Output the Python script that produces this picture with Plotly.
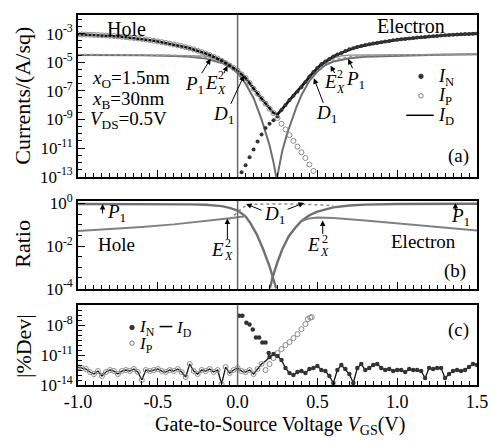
import numpy as np
import plotly.graph_objects as go

FONT = "Liberation Serif, Times New Roman, serif"

# ---------------- panel (a): currents (log10 A/sq) ----------------
x_grid = np.linspace(-1.0, 1.5, 101)  # step 0.025 V
logI_D = [-3.05, -3.06, -3.07, -3.08, -3.09, -3.10, -3.12, -3.13, -3.15, -3.17,
          -3.20, -3.22, -3.25, -3.28, -3.31, -3.34, -3.37, -3.41, -3.45, -3.50,
          -3.55, -3.60, -3.65, -3.70, -3.76, -3.82, -3.88, -3.95, -4.02, -4.10,
          -4.20, -4.29, -4.39, -4.50, -4.62, -4.75, -4.90, -5.06, -5.23, -5.41,
          -5.60, -5.85, -6.10, -6.45, -6.85, -7.20, -7.55, -7.90, -8.25, -8.55,
          -8.65, -8.35, -8.00, -7.65, -7.35, -7.05, -6.75, -6.38, -6.00, -5.68,
          -5.40, -5.15, -4.95, -4.77, -4.60, -4.47, -4.35, -4.22, -4.10, -4.02,
          -3.94, -3.87, -3.80, -3.75, -3.70, -3.65, -3.60, -3.56, -3.52, -3.47,
          -3.43, -3.40, -3.37, -3.34, -3.31, -3.28, -3.26, -3.23, -3.20, -3.18,
          -3.16, -3.14, -3.12, -3.10, -3.08, -3.06, -3.04, -3.03, -3.02, -3.01,
          -3.00]
x_N_tail = [0.025, 0.05, 0.075, 0.1, 0.125, 0.15, 0.175, 0.2, 0.225, 0.25]
logI_N_tail = [-12.7, -12.2, -11.65, -11.1, -10.55, -10.05, -9.6, -9.3, -9.05, -8.8]
x_P_tail = [0.25, 0.275, 0.3, 0.325, 0.35, 0.375, 0.4, 0.425, 0.45, 0.475]
logI_P_tail = [-8.9, -9.3, -9.7, -10.1, -10.5, -10.9, -11.3, -11.7, -12.15, -12.6]

x_P1_hole = [-1, -0.8, -0.6, -0.4, -0.3, -0.2, -0.1, -0.05, 0.0, 0.05, 0.1, 0.15, 0.2, 0.225, 0.245]
logP1_hole = [-4.5, -4.5, -4.52, -4.57, -4.62, -4.75, -5.05, -5.3, -5.75, -6.5, -7.5, -9.0, -10.8, -12.0, -13.2]
x_P1_elec = [0.245, 0.26, 0.28, 0.31, 0.34, 0.37, 0.4, 0.45, 0.5, 0.55, 0.6, 0.7, 0.8, 1.0, 1.2, 1.5]
logP1_elec = [-13.2, -12.3, -11.2, -10.0, -9.0, -8.1, -7.3, -6.3, -5.65, -5.2, -4.95, -4.72, -4.62, -4.53, -4.49, -4.45]
x_E_hole = [-1, -0.6, -0.4, -0.3, -0.2, -0.15, -0.1, -0.05, 0.0, 0.05]
logE_hole = [-4.46, -4.48, -4.52, -4.56, -4.65, -4.75, -4.95, -5.25, -5.7, -6.3]
x_E_elec = [0.42, 0.45, 0.5, 0.55, 0.6, 0.7, 0.8, 1.0, 1.2, 1.5]
logE_elec = [-6.5, -6.05, -5.5, -5.1, -4.85, -4.62, -4.54, -4.49, -4.47, -4.45]
x_D_hole = [-0.5, -0.3, -0.2, -0.1, -0.05, 0.0, 0.05, 0.1]
logD_hole = [-4.5, -4.52, -4.58, -4.8, -5.1, -5.55, -6.15, -6.95]
x_D_elec = [0.4, 0.45, 0.5, 0.55, 0.6, 0.65, 0.7, 1.0, 1.5]
logD_elec = [-6.8, -6.08, -5.47, -5.02, -4.72, -4.56, -4.5, -4.46, -4.43]

# ---------------- panel (b): ratio (log10) ----------------
x_R_hole = [-1, -0.6, -0.4, -0.3, -0.2, -0.1, -0.05, 0.0, 0.05, 0.08, 0.12, 0.16, 0.2, 0.22, 0.25]
logR_hole = [-0.02, -0.02, -0.03, -0.04, -0.06, -0.12, -0.2, -0.33, -0.6, -0.92, -1.45, -2.15, -2.95, -3.4, -4.2]
x_R_elec = [0.195, 0.22, 0.25, 0.28, 0.32, 0.36, 0.4, 0.45, 0.5, 0.6, 0.7, 0.8, 1.0, 1.5]
logR_elec = [-4.2, -3.45, -2.75, -2.15, -1.55, -1.15, -0.82, -0.55, -0.38, -0.18, -0.09, -0.05, -0.02, -0.01]
x_RE_hole = [-1, -0.8, -0.6, -0.4, -0.2, -0.1, -0.05, 0.0, 0.05]
logRE_hole = [-1.29, -1.2, -1.1, -0.98, -0.83, -0.74, -0.69, -0.64, -0.6]
x_RE_elec = [0.4, 0.45, 0.5, 0.6, 0.8, 1.0, 1.2, 1.5]
logRE_elec = [-0.82, -0.7, -0.66, -0.68, -0.8, -0.93, -1.07, -1.27]
x_RD = [-0.05, 0.0, 0.03, 0.06, 0.1, 0.2, 0.3, 0.4, 0.5, 0.6]
logRD = [-0.75, -0.42, -0.2, -0.08, -0.04, -0.02, -0.02, -0.03, -0.06, -0.1]

# ---------------- panel (c): |%Dev| (log10) ----------------
logDev_D = [-12.2, -12.3, -12.4, -12.7, -12.9, -12.6, -13.1, -12.7, -12.5, -12.6,
            -12.9, -12.6, -12.5, -12.6, -12.4, -12.7, -13.5, -12.5, -12.6, -12.5,
            -12.4, -12.6, -12.7, -12.5, -12.6, -12.4, -12.7, -13.2, -11.9, -12.6,
            -12.9, -12.5, -12.6, -12.4, -12.7, -12.5, -13.9, -12.2, -12.8, -12.5,
            -12.3, -12.6, -12.7, -12.5, -12.9, -12.4, -11.9, -11.6, -11.2, -10.9,
            -11.1, -11.5, -12.3, -12.8, -13.0, -12.7, -12.6, -12.8, -12.4, -12.3,
            -12.1, -12.5, -12.6, -13.1, -13.8, -12.5, -12.0, -12.4, -12.9, -13.8,
            -12.3, -11.9, -12.5, -12.3, -12.0, -11.9, -12.3, -12.5, -12.4, -12.6,
            -12.5, -12.5, -12.7, -12.4, -12.5, -12.5, -12.6, -13.3, -12.3, -12.4,
            -12.3, -12.3, -13.3, -12.9, -12.6, -12.5, -12.6, -12.5, -12.2, -11.9,
            -12.0]
x_devN_high = [0.01, 0.03, 0.055, 0.075, 0.095, 0.115, 0.135, 0.155, 0.175, 0.195]
logDevN_high = [-7.07, -7.07, -7.75, -7.95, -8.45, -9.25, -9.25, -9.75, -9.75, -10.8]
x_devP_high = [0.175, 0.2, 0.225, 0.25, 0.275, 0.3, 0.325, 0.35, 0.375, 0.4, 0.425, 0.44, 0.455, 0.465]
logDevP_high = [-12.5, -11.9, -11.3, -10.8, -10.4, -10.0, -9.7, -9.3, -8.9, -8.4, -7.9, -7.4, -7.25, -7.2]

assert len(logI_D) == 101 and len(logDev_D) == 101

def p10(v):
    return [10.0 ** t for t in v]

xg = list(np.round(x_grid, 4))
I_D = p10(logI_D)
# I_N = tail below minimum + I_D where electrons dominate
xN = x_N_tail + [x for x in xg if x > 0.26]
IN = p10(logI_N_tail) + [I_D[i] for i, x in enumerate(xg) if x > 0.26]
xP = [x for x in xg if x < 0.24] + x_P_tail
IP = [I_D[i] for i, x in enumerate(xg) if x < 0.24] + p10(logI_P_tail)

devD = p10(logDev_D)
xcN = x_devN_high + [x for x in xg if x >= 0.2]
cN = p10(logDevN_high) + [devD[i] for i, x in enumerate(xg) if x >= 0.2]
xcP = [x for x in xg if x <= 0.15] + x_devP_high
cP = [devD[i] for i, x in enumerate(xg) if x <= 0.15] + p10(logDevP_high)

fig = go.Figure()

def line(x, ly, xa, ya, color, width, dash="solid"):
    fig.add_trace(go.Scatter(x=x, y=p10(ly), xaxis=xa, yaxis=ya, mode="lines",
                             line=dict(color=color, width=width, dash=dash),
                             showlegend=False, hoverinfo="skip"))

# panel a
line(x_P1_hole, logP1_hole, "x", "y", "#6e6e6e", 2.0)
line(x_P1_elec, logP1_elec, "x", "y", "#6e6e6e", 2.0)
line(x_D_hole, logD_hole, "x", "y", "#8a8a8a", 1.2)
line(x_D_elec, logD_elec, "x", "y", "#8a8a8a", 1.2)
line(x_E_hole, logE_hole, "x", "y", "#999999", 1.6, "dot")
line(x_E_elec, logE_elec, "x", "y", "#999999", 1.6, "dot")
fig.add_trace(go.Scatter(x=xg, y=I_D, mode="lines", line=dict(color="#111", width=2.6),
                         showlegend=False, hoverinfo="skip"))
fig.add_trace(go.Scatter(x=xN, y=IN, mode="markers",
                         marker=dict(symbol="circle", size=4, color="#333"),
                         showlegend=False, hoverinfo="skip"))
fig.add_trace(go.Scatter(x=xP, y=IP, mode="markers",
                         marker=dict(symbol="circle-open", size=5, color="#8a8a8a", line=dict(width=1)),
                         showlegend=False, hoverinfo="skip"))

# panel b
line(x_R_hole, logR_hole, "x2", "y2", "#707070", 2.4)
line(x_R_elec, logR_elec, "x2", "y2", "#707070", 2.4)
line(x_RE_hole, logRE_hole, "x2", "y2", "#808080", 2.0)
line(x_RE_elec, logRE_elec, "x2", "y2", "#808080", 2.0)
line(x_RD, logRD, "x2", "y2", "#8a8a8a", 1.5, "dot")

# panel c
fig.add_trace(go.Scatter(x=xg, y=devD, xaxis="x3", yaxis="y3", mode="lines",
                         line=dict(color="#111", width=1.3), showlegend=False, hoverinfo="skip"))
fig.add_trace(go.Scatter(x=xcP, y=cP, xaxis="x3", yaxis="y3", mode="markers",
                         marker=dict(symbol="circle-open", size=5, color="#8a8a8a", line=dict(width=1)),
                         showlegend=False, hoverinfo="skip"))
fig.add_trace(go.Scatter(x=xcN, y=cN, xaxis="x3", yaxis="y3", mode="markers",
                         marker=dict(symbol="circle", size=4.5, color="#333"),
                         showlegend=False, hoverinfo="skip"))

# ---------------- layout ----------------
W, H = 493, 442
ML, MR, MT, MB = 78, 9, 5, 57
PW, PH = W - ML - MR, H - MT - MB

def py2f(py):
    return (H - MB - py) / PH

def px2f(px):
    return (px - ML) / PW

tickfont = dict(family=FONT, size=18, color="black")
xt_vals = [-1.0, -0.5, 0.0, 0.5, 1.0, 1.5]
xt_text = ["-1.0", "-0.5", "0.0", "0.5", "1.0", "1.5"]

def xaxis(anchor, labels):
    return dict(anchor=anchor, domain=[0, 1], range=[-1.0, 1.5], showline=True, linecolor="black",
                linewidth=1.6, mirror=True, ticks="inside", ticklen=7, tickwidth=1.2,
                tickcolor="black", tickmode="array", tickvals=xt_vals, ticktext=xt_text,
                showticklabels=labels, tickfont=tickfont, showgrid=False, zeroline=False,
                ticklabeloverflow="allow",
                minor=dict(tickmode="linear", tick0=0, dtick=0.05, ticks="inside", ticklen=4,
                           tickwidth=1, tickcolor="black"))

def yaxis(anchor, dom, rng, major, minor):
    return dict(anchor=anchor, domain=dom, type="log", range=rng, showline=True, linecolor="black",
                linewidth=1.6, mirror=True, ticks="inside", ticklen=7, tickwidth=1.2,
                tickcolor="black", tickmode="array", tickvals=[10.0 ** k for k in major],
                ticktext=["10<sup>%d</sup>" % k for k in major], tickfont=dict(family=FONT, size=17, color="black"),
                showgrid=False, zeroline=False, ticklabeloverflow="allow",
                minor=dict(tickmode="array", tickvals=[10.0 ** k for k in minor], ticks="inside",
                           ticklen=4, tickwidth=1, tickcolor="black"))

fig.update_layout(
    width=W, height=H, margin=dict(l=ML, r=MR, t=MT, b=MB),
    paper_bgcolor="white", plot_bgcolor="white", showlegend=False,
    font=dict(family=FONT, color="black"),
    xaxis=xaxis("y", False), xaxis2=xaxis("y2", False), xaxis3=xaxis("y3", True),
    yaxis=yaxis("x", [py2f(171), 1.0], [-13, -1.7], [-3, -5, -7, -9, -11, -13],
                [k / 2 for k in range(-26, -3)]),
    yaxis2=yaxis("x2", [py2f(286), py2f(196)], [-4, 0.12], [0, -2, -4], [k / 2 for k in range(-8, 1)]),
    yaxis3=yaxis("x3", [0, py2f(303)], [-14, -6], [-8, -11, -14], [k / 2 for k in range(-28, -11)]),
)

shapes = []
for xr, yr in [("x", "y domain"), ("x2", "y2 domain"), ("x3", "y3 domain")]:
    shapes.append(dict(type="line", xref=xr, yref=yr, x0=0, x1=0, y0=0, y1=1,
                       line=dict(color="#666", width=1.5)))

ann = []

def text(px, py, s, size=19, xanchor="center", angle=0):
    ann.append(dict(x=px2f(px), y=py2f(py), xref="paper", yref="paper", text=s, showarrow=False,
                    xanchor=xanchor, yanchor="middle", textangle=angle,
                    font=dict(family=FONT, size=size, color="black")))

def arrow(hx, hy, tx, ty):
    ann.append(dict(x=px2f(hx), y=py2f(hy), xref="paper", yref="paper", text="", showarrow=True,
                    ax=tx - hx, ay=ty - hy, arrowhead=2, arrowsize=1.1, arrowwidth=1,
                    arrowcolor="black"))

def dot(px, py, filled):
    shapes.append(dict(type="circle", xref="paper", yref="paper", xsizemode="pixel", ysizemode="pixel",
                       xanchor=px2f(px), yanchor=py2f(py), x0=-2.2, x1=2.2, y0=-2.2, y1=2.2,
                       fillcolor="#333" if filled else "white",
                       line=dict(color="#333" if filled else "#777", width=1)))

def hline(x0, x1, py):
    shapes.append(dict(type="line", xref="paper", yref="paper", x0=px2f(x0), x1=px2f(x1),
                       y0=py2f(py), y1=py2f(py), line=dict(color="black", width=1.5)))

# axis titles
text(22, 88, "Currents/(A/sq)", 22, angle=-90)
text(22, 240, "Ratio", 22, angle=-90)
text(22, 345, "|%Dev|", 22, angle=-90)
text(284, 427, "Gate-to-Source Voltage <i>V</i><sub>GS</sub>(V)", 20)

# panel a texts
text(127, 19, "Hole", 20)
text(417, 16, "Electron", 20)
text(90, 71, "<i>x</i><sub>O</sub>=1.5nm", xanchor="left")
text(90, 92, "<i>x</i><sub>B</sub>=30nm", xanchor="left")
text(88, 113, "<i>V</i><sub>DS</sub>=0.5V", xanchor="left")
text(197, 77, "<i>P</i><sub>1</sub>")
text(214, 74, "<i>E</i>")
text(224, 67, "2", 12)
text(224, 82, "<i>X</i>", 12)
text(226, 108, "<i>D</i><sub>1</sub>")
arrow(213, 50, 203, 66)
arrow(230, 57, 226, 66)
arrow(247, 67, 233, 97)
text(335, 73, "<i>E</i>")
text(345, 66, "2", 12)
text(345, 81, "<i>X</i>", 12)
text(360, 72, "<i>P</i><sub>1</sub>")
text(331, 107, "<i>D</i><sub>1</sub>")
arrow(318, 70, 328, 96)
arrow(335, 57, 340, 66)
arrow(353, 50, 358, 61)
text(465, 150, "(a)")
dot(427, 68, True)
text(442, 69, "<i>I</i><sub>N</sub>", 18, xanchor="left")
dot(427, 88, False)
text(442, 89, "<i>I</i><sub>P</sub>", 18, xanchor="left")
hline(412, 440, 108)
text(442, 109, "<i>I</i><sub>D</sub>", 18, xanchor="left")

# panel b texts
arrow(103, 199, 103, 210)
text(117, 208, "<i>P</i><sub>1</sub>")
text(117, 241, "Hole")
arrow(230, 214, 230, 236)
text(220, 246, "<i>E</i>")
text(231, 239, "2", 12)
text(231, 253, "<i>X</i>", 12)
text(278, 210, "<i>D</i><sub>1</sub>")
arrow(249, 199, 266, 206)
arrow(308, 198, 290, 205)
arrow(327, 216, 327, 231)
text(318, 241, "<i>E</i>")
text(329, 235, "2", 12)
text(329, 248, "<i>X</i>", 12)
arrow(462, 198, 462, 207)
text(467, 212, "<i>P</i><sub>1</sub>")
text(430, 238, "Electron")
text(462, 268, "(b)")

# panel c texts
dot(133, 326, True)
text(138, 326, "<i>I</i><sub>N</sub>", 17, xanchor="left")
hline(161, 174, 325)
text(176, 327, "<i>I</i><sub>D</sub>", 17, xanchor="left")
dot(133, 342, False)
text(138, 344, "<i>I</i><sub>P</sub>", 17, xanchor="left")
text(465, 329, "(c)")

fig.update_layout(shapes=shapes, annotations=ann)
fig.write_html("out.html")
